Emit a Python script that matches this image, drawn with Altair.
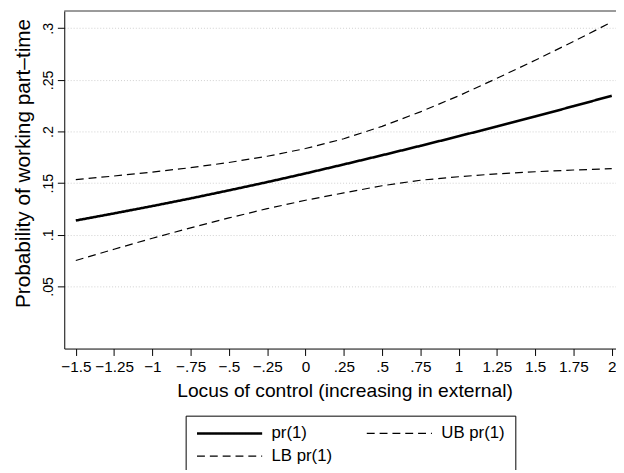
import json
import altair as alt
import pandas as pd

# ---- data ----
x_vals = [-1.5, -1.25, -1, -0.75, -0.5, -0.25, 0, 0.25, 0.5, 0.75, 1, 1.25, 1.5, 1.75, 2]
pr1 = [0.1138, 0.1207, 0.1278, 0.1352, 0.1430, 0.1510, 0.1594, 0.1681, 0.1770,
       0.1861, 0.1954, 0.2049, 0.2146, 0.2245, 0.2346]
ub_pr1 = [0.1534, 0.1569, 0.1607, 0.1650, 0.1700, 0.1760, 0.1835, 0.1930, 0.2050,
          0.2190, 0.2345, 0.2515, 0.2690, 0.2872, 0.3060]
lb_pr1 = [0.0751, 0.0860, 0.0966, 0.1067, 0.1163, 0.1253, 0.1334, 0.1405, 0.1475,
          0.1528, 0.1562, 0.1590, 0.1610, 0.1627, 0.1640]

series_names = ["pr(1)", "UB pr(1)", "LB pr(1)"]

x_ticks = [-1.5, -1.25, -1, -0.75, -0.5, -0.25, 0, 0.25, 0.5, 0.75, 1, 1.25, 1.5, 1.75, 2]
x_tick_labels = ["\u22121.5", "\u22121.25", "\u22121", "\u2212.75", "\u2212.5", "\u2212.25", "0",
                 ".25", ".5", ".75", "1", "1.25", "1.5", "1.75", "2"]
y_ticks = [0.05, 0.1, 0.15, 0.2, 0.25, 0.3]
y_tick_labels = [".05", ".1", ".15", ".2", ".25", ".3"]

x_title = "Locus of control (increasing in external)"
y_title = "Probability of working part\u2013time"

rows = []
for name, vals in zip(series_names, [pr1, ub_pr1, lb_pr1]):
    for xv, yv in zip(x_vals, vals):
        rows.append({"x": xv, "value": yv, "series": name})
df = pd.DataFrame(rows)

FONT = "Liberation Sans"
W, H = 559, 342


def label_expr(vals, labels):
    return "%s[indexof(%s, datum.value)]" % (
        json.dumps(labels, ensure_ascii=False), json.dumps(vals))


lines = alt.Chart(df).mark_line(color="black").encode(
    x=alt.X("x:Q",
            scale=alt.Scale(domain=[-1.5754, 2.0278], nice=False, zero=False),
            axis=alt.Axis(values=x_ticks, labelExpr=label_expr(x_ticks, x_tick_labels),
                          title=x_title, grid=False, tickSize=7, labelPadding=4,
                          titlePadding=7, labelFontSize=15.5, titleFontSize=19.5,
                          titleX=284, labelOverlap=False, labelFlush=False)),
    y=alt.Y("value:Q",
            scale=alt.Scale(domain=[-0.0102, 0.3167], nice=False, zero=False),
            axis=alt.Axis(values=y_ticks, labelExpr=label_expr(y_ticks, y_tick_labels),
                          title=y_title, grid=True, gridDash=[1, 2], gridColor="#cfcfcf",
                          gridWidth=1, tickSize=7, labelAngle=270, labelAlign="center",
                          labelBaseline="alphabetic", labelPadding=5, labelFontSize=14.5,
                          titleFontSize=21, titlePadding=7, titleY=154,
                          labelOverlap=False, labelFlush=False)),
    strokeDash=alt.StrokeDash("series:N",
                              scale=alt.Scale(domain=series_names,
                                              range=[[1, 0], [8, 5], [8, 5]]),
                              legend=alt.Legend(title=None)),
    strokeWidth=alt.StrokeWidth("series:N",
                                scale=alt.Scale(type="ordinal", domain=series_names,
                                                range=[2.6, 1.2, 1.2]),
                                legend=alt.Legend(title=None)),
    order=alt.Order("x:Q"),
)

top_border = alt.Chart(pd.DataFrame({"b": [0]})).mark_rule(color="#333333", strokeWidth=1).encode(
    x=alt.value(0), x2=alt.value(W), y=alt.value(0)
)

chart = alt.layer(lines, top_border).properties(
    width=W, height=H,
    autosize=alt.AutoSizeParams(type="none"),
    padding={"left": 57, "top": 0, "right": 0, "bottom": 120},
).configure_view(stroke=None).configure_axis(
    domainColor="black", tickColor="black", labelColor="black", titleColor="black",
    labelFont=FONT, titleFont=FONT, titleFontWeight="normal", domainWidth=1, tickWidth=1,
).configure_legend(
    orient="none", legendX=123, legendY=410, columns=2, direction="horizontal",
    symbolType="stroke", symbolSize=4356, clipHeight=16, symbolStrokeColor="black",
    labelOffset=8, columnPadding=33, rowPadding=6, padding=10,
    labelFont=FONT, labelFontSize=17, labelColor="black",
    strokeColor="black", fillColor="white",
)

chart.save("out.html", embed_options={"renderer": "svg", "actions": False})
